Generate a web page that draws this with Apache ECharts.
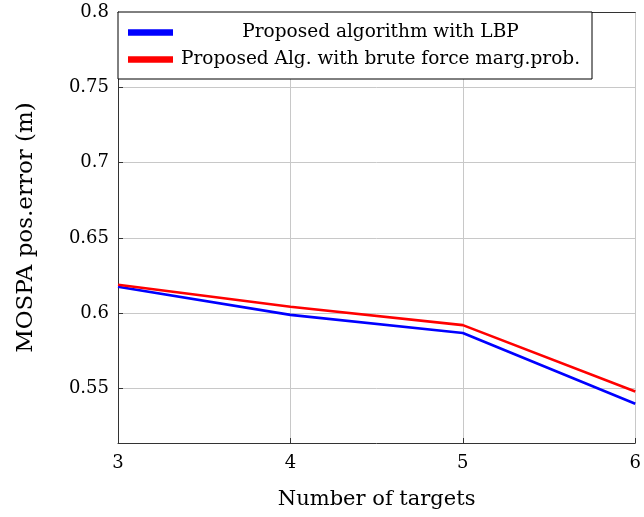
<!DOCTYPE html>
<html>
<head>
<meta charset="utf-8">
<script src="https://cdn.jsdelivr.net/npm/echarts@6/dist/echarts.min.js"></script>
<style>html,body{margin:0;padding:0;background:#fff;}#c{width:644px;height:517px;}</style>
</head>
<body>
<div id="c"></div>
<script>
const targets = [3, 4, 5, 6];
const lbp = [0.6177, 0.599, 0.587, 0.540];
const brute = [0.619, 0.6044, 0.5922, 0.5482];
const yTicks = [0.55, 0.6, 0.65, 0.7, 0.75, 0.8];
const xTicks = [3, 4, 5, 6];
const seriesNames = ['Proposed algorithm with LBP', 'Proposed Alg. with brute force marg.prob.'];

const font = 'DejaVu Serif';
const chart = echarts.init(document.getElementById('c'));
chart.setOption({
  animation: false,
  backgroundColor: '#fff',
  textStyle: {fontFamily: font},
  grid: {left: 118, right: 7, top: 12, bottom: 74, containLabel: false, show: false},
  legend: {
    orient: 'vertical', left: 118, top: 12,
    data: seriesNames,
    backgroundColor: '#fff', borderColor: '#000', borderWidth: 1,
    padding: [11, 12, 10, 10], itemGap: 8,
    itemWidth: 45, itemHeight: 20,
    icon: 'path://M0,0 L1,0 L1,0.14 L0,0.14 Z',
    formatter: n => (n === seriesNames[0] ? '{a|' : '{b|') + n + '}',
    textStyle: {fontFamily: font, fontSize: 18.5, color: '#000',
      rich: {
        a: {fontFamily: font, fontSize: 18.5, color: '#000', width: 399, align: 'center', padding: [0, 0, 0, 3]},
        b: {fontFamily: font, fontSize: 18.5, color: '#000', align: 'left', padding: [0, 0, 0, 3]}
      }}
  },
  xAxis: [{
    type: 'value', min: 3, max: 6, interval: 1,
    name: 'Number of targets', nameLocation: 'middle', nameGap: 46,
    nameTextStyle: {fontFamily: font, fontSize: 21, color: '#000'},
    axisLine: {show: true, lineStyle: {color: '#333', width: 1}},
    axisTick: {show: true, inside: true, length: 5, lineStyle: {color: '#333'}},
    axisLabel: {fontFamily: font, fontSize: 18, color: '#000', margin: 11},
    splitLine: {show: true, lineStyle: {color: '#c8c8c8', width: 1}}
  }, {
    type: 'value', min: 3, max: 6, interval: 1, position: 'top',
    axisLine: {show: true, lineStyle: {color: '#333', width: 1}},
    axisTick: {show: false}, axisLabel: {show: false}, splitLine: {show: false}
  }],
  yAxis: {
    type: 'value', min: 0.514, max: 0.8,
    name: 'MOSPA pos.error (m)', nameLocation: 'middle', nameGap: 80,
    nameTextStyle: {fontFamily: font, fontSize: 23, color: '#000'},
    axisLine: {show: true, lineStyle: {color: '#333', width: 1}},
    axisTick: {show: true, inside: true, length: 5, lineStyle: {color: '#333'}, customValues: yTicks},
    axisLabel: {fontFamily: font, fontSize: 18, color: '#000', margin: 9,
      customValues: yTicks, formatter: v => String(+v.toFixed(2))},
    splitLine: {show: true, lineStyle: {color: '#c8c8c8', width: 1}}
  },
  series: [
    {name: seriesNames[0], type: 'line', data: targets.map((t, i) => [t, lbp[i]]),
      showSymbol: false, symbol: 'none', color: '#0000ff', lineStyle: {width: 2.6, color: '#0000ff'}},
    {name: seriesNames[1], type: 'line', data: targets.map((t, i) => [t, brute[i]]),
      showSymbol: false, symbol: 'none', color: '#ff0000', lineStyle: {width: 2.6, color: '#ff0000'}}
  ]
});
</script>
</body>
</html>
